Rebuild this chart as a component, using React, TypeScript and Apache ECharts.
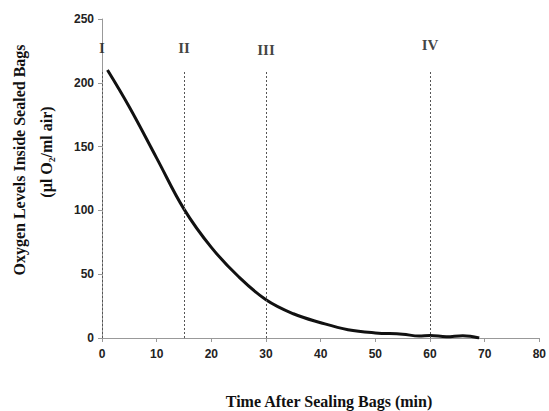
import React, { useEffect, useRef } from "react";
import * as echarts from "echarts";

const timeMin = [1, 5, 10, 15, 20, 25, 30, 35, 40, 45, 50, 55, 58, 60, 63, 66, 69];
const oxygen = [210, 181, 141, 101, 71, 48, 30, 19, 12, 6.5, 4, 3, 1.5, 2, 1, 1.8, 0];
const stageNames = ["I", "II", "III", "IV"];
const stageTimes = [0, 15, 30, 60];
const stageLineTop = 210;
const stageLabelY = [227, 227, 226, 230];
const xTitle = "Time After Sealing Bags (min)";
const yTitle1 = "Oxygen Levels Inside Sealed Bags";
const yTitle2 = "(µl O₂/ml air)";

export default function App() {
  const ref = useRef<HTMLDivElement>(null);
  useEffect(() => {
    if (!ref.current) return;
    const chart = echarts.init(ref.current, null, { renderer: "svg" });
    const tickLabel = {
      fontFamily: "Liberation Sans, Arial, sans-serif",
      fontWeight: "bold" as const,
      fontSize: 12,
      color: "#222",
    };
    const serif = "Liberation Serif, Times New Roman, serif";
    chart.setOption({
      animation: false,
      backgroundColor: "#fff",
      grid: { left: 102, right: 6, top: 19, bottom: 73 },
      xAxis: {
        type: "value",
        min: 0,
        max: 80,
        interval: 10,
        axisLine: { show: true, lineStyle: { color: "#999", width: 1 } },
        axisTick: { show: true, length: 4, lineStyle: { color: "#999" } },
        splitLine: { show: false },
        axisLabel: { ...tickLabel, margin: 10 },
      },
      yAxis: {
        type: "value",
        min: 0,
        max: 250,
        interval: 50,
        axisLine: { show: true, lineStyle: { color: "#999", width: 1 } },
        axisTick: { show: true, length: 4, lineStyle: { color: "#999" } },
        splitLine: { show: false },
        axisLabel: { ...tickLabel, margin: 8 },
      },
      graphic: [
        {
          type: "text",
          x: 329,
          y: 401,
          style: {
            text: xTitle,
            align: "center",
            verticalAlign: "middle",
            fontFamily: serif,
            fontWeight: "bold",
            fontSize: 16,
            fill: "#111",
          },
        },
        {
          type: "text",
          x: 19,
          y: 160,
          rotation: Math.PI / 2,
          style: {
            text: yTitle1,
            align: "center",
            verticalAlign: "middle",
            fontFamily: serif,
            fontWeight: "bold",
            fontSize: 16,
            fill: "#111",
          },
        },
        {
          type: "text",
          x: 46,
          y: 152,
          rotation: Math.PI / 2,
          style: {
            text: yTitle2,
            align: "center",
            verticalAlign: "middle",
            fontFamily: serif,
            fontWeight: "bold",
            fontSize: 16,
            fill: "#111",
          },
        },
      ],
      series: [
        {
          type: "line",
          data: timeMin.map((t, i) => [t, oxygen[i]]),
          smooth: 0.4,
          showSymbol: false,
          lineStyle: { color: "#111", width: 3 },
          z: 3,
          markLine: {
            silent: true,
            symbol: "none",
            label: { show: false },
            lineStyle: { color: "#555", type: [2, 2], width: 1 },
            data: stageTimes.map((t) => [
              { coord: [t, 0] },
              { coord: [t, stageLineTop] },
            ]),
          },
        },
        {
          type: "scatter",
          symbolSize: 0,
          data: stageTimes.map((t, i) => [t, stageLabelY[i], stageNames[i]]),
          label: {
            show: true,
            position: "inside",
            formatter: (p: any) => p.data[2],
            fontFamily: serif,
            fontWeight: "bold",
            fontSize: 15,
            color: "#111",
          },
          z: 4,
        },
      ],
    });
    return () => chart.dispose();
  }, []);
  return (
    <div
      ref={ref}
      style={{ position: "fixed", left: 0, top: 0, width: 549, height: 411 }}
    />
  );
}
